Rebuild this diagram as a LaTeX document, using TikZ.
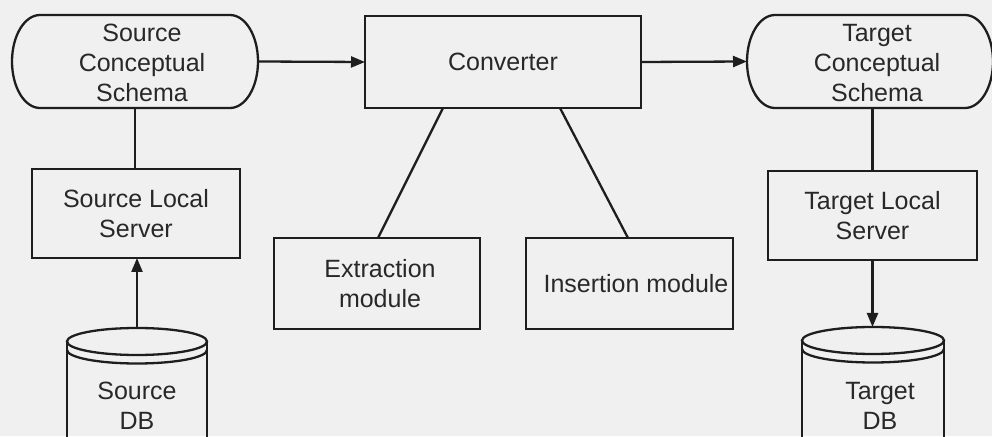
\documentclass[tikz,border=0pt]{standalone}
\usepackage{fontspec}
\setmainfont{Liberation Sans}
\usetikzlibrary{arrows.meta}
\definecolor{bg}{RGB}{240,240,240}
\definecolor{ink}{RGB}{30,30,30}
\definecolor{txtc}{RGB}{40,40,40}
\begin{document}
\begin{tikzpicture}[x=1pt,y=1pt,
  line/.style={draw=ink,line width=2.3pt},
  box/.style={line, rectangle, inner sep=0pt, outer sep=0pt, font=\fontsize{25}{30}\selectfont, text=txtc, align=center},
  shell/.style={rectangle, inner sep=0pt, outer sep=0pt},
  lbl/.style={font=\fontsize{25}{30}\selectfont, text=txtc, align=center, inner sep=0pt},
  arr/.style={line, -{Triangle[length=14pt,width=11pt]}},
]
\fill[bg] (0,0) rectangle (992,436);
\useasboundingbox (0,0) rectangle (992,436);

% Source conceptual schema
\node[shell, minimum width=246pt, minimum height=93pt] (ss) at (135,374.5) {};
\draw[line] ([xshift=28pt]ss.north west) -- ([xshift=-28pt]ss.north east)
  arc[start angle=90,end angle=-90,x radius=28pt,y radius=46.5pt]
  -- ([xshift=28pt]ss.south west)
  arc[start angle=270,end angle=90,x radius=28pt,y radius=46.5pt] -- cycle;
\node[lbl] (sst) at (142,373) {Source\\Conceptual\\Schema};

% Converter
\node[box, minimum width=276pt, minimum height=92pt] (conv) at (503,374) {Converter};

% Target conceptual schema
\node[shell, minimum width=246pt, minimum height=93pt] (ts) at (870,374.5) {};
\draw[line] ([xshift=28pt]ts.north west) -- ([xshift=-28pt]ts.north east)
  arc[start angle=90,end angle=-90,x radius=28pt,y radius=46.5pt]
  -- ([xshift=28pt]ts.south west)
  arc[start angle=270,end angle=90,x radius=28pt,y radius=46.5pt] -- cycle;
\node[lbl] (tst) at (877,373) {Target\\Conceptual\\Schema};

% Servers
\node[box, minimum width=208pt, minimum height=89pt] (sserv) at (136,222.5) {Source Local\\Server};
\node[box, minimum width=209pt, minimum height=89pt] (tserv) at (872.5,220.5) {Target Local\\Server};

% Modules
\node[box, minimum width=206pt, minimum height=91pt] (extr) at (377,152.5) {};
\node[lbl] (extrt) at (380,152.5) {Extraction\\module};
\node[box, minimum width=207pt, minimum height=91pt] (ins) at (629.5,152.5) {};
\node[lbl] (inst) at (636,152.5) {Insertion module};

% Source DB cylinder
\coordinate (sdbtop) at (137,108);
\draw[line] (137,94.5) ellipse [x radius=70pt, y radius=13.5pt];
\draw[line] (67,86) arc[start angle=180,end angle=360,x radius=70pt,y radius=13.5pt];
\draw[line] (67,94.5) -- (67,-2) (207,94.5) -- (207,-2);
\node[lbl] (sdbt) at (137,30) {Source\\DB};

% Target DB cylinder
\coordinate (tdbtop) at (873,109);
\draw[line] (873,95.5) ellipse [x radius=71pt, y radius=13.5pt];
\draw[line] (802,87) arc[start angle=180,end angle=360,x radius=71pt,y radius=13.5pt];
\draw[line] (802,95.5) -- (802,-2) (944,95.5) -- (944,-2);
\node[lbl] (tdbt) at (880,30) {Target\\DB};

% Connectors
\draw[arr] (ss.east) -- (conv.west);
\draw[arr] (conv.east) -- (ts.west);
\draw[line] (ss.south) -- (ss.south |- sserv.north);
\draw[arr] (sdbtop) -- (sdbtop |- sserv.south);
\draw[line] ([xshift=78pt]conv.south west) -- ([xshift=104pt]extr.north west);
\draw[line] ([xshift=195pt]conv.south west) -- ([xshift=102pt]ins.north west);
\draw[line] (tserv.north |- ts.south) -- (tserv.north);
\draw[arr] (tserv.south) -- (tserv.south |- tdbtop);
\end{tikzpicture}
\end{document}
